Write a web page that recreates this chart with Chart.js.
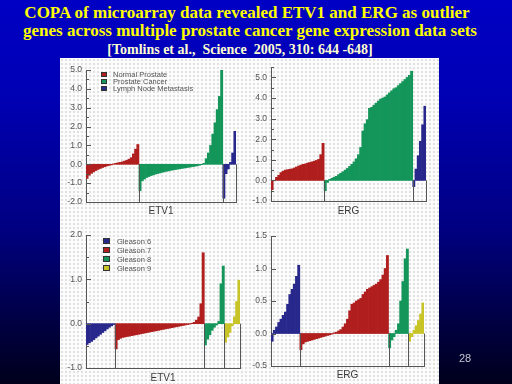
<!DOCTYPE html>
<html>
<head>
<meta charset="utf-8">
<script src="https://cdn.jsdelivr.net/npm/chart.js@4.4.0/dist/chart.umd.min.js"></script>
<style>
    html, body { margin: 0; padding: 0; }
    body {
        width: 512px; height: 384px; overflow: hidden; position: relative;
        background: linear-gradient(to bottom, #0000c4 0%, #0000b4 25%, #000080 60%, #000040 85%, #00001c 100%);
    }
    .title {
        position: absolute; left: 0; width: 500px; text-align: center; white-space: pre;
        font-family: "Liberation Serif", serif; font-weight: bold; color: #ffff00;
    }
    #t1 { top: 3px; left: -3px; font-size: 17px; }
    #t2 { top: 21px; font-size: 17px; }
    #t3 { top: 42px; left: -10px; font-size: 14px; color: #ffffd0; }
    #panel {
        position: absolute; left: 60px; top: 58px; width: 379px; height: 326px;
        background-color: #fcfcfc;
        background-image: radial-gradient(circle, #d2d2d2 0.6px, transparent 0.9px);
        background-size: 4px 4px;
    }
    canvas { position: absolute; }
    #c1 { left: 60px; top: 58px; }
    #c2 { left: 245px; top: 58px; }
    #c3 { left: 60px; top: 225px; }
    #c4 { left: 245px; top: 225px; }
    #page { position: absolute; left: 459px; top: 352px; font: 11px "Liberation Sans", sans-serif; color: #c4c4d0; }
</style>
</head>
<body>
<div class="title" id="t1">COPA of microarray data revealed ETV1 and ERG as outlier</div>
<div class="title" id="t2">genes across multiple prostate cancer gene expression data sets</div>
<div class="title" id="t3">[Tomlins et al.,  Science  2005, 310: 644 -648]</div>
<div id="panel"></div>
<canvas id="c1" width="190" height="162"></canvas>
<canvas id="c2" width="190" height="162"></canvas>
<canvas id="c3" width="190" height="159"></canvas>
<canvas id="c4" width="190" height="159"></canvas>
<div id="page">28</div>
<script>
// sorted expression values per sample group
const tissue_names = ["Normal Prostate", "Prostate Cancer", "Lymph Node Metastasis"];
const gleason_names = ["Gleason 6", "Gleason 7", "Gleason 8", "Gleason 9"];

const etv1_normal = [-0.75, -0.58, -0.48, -0.4, -0.33, -0.27, -0.22, -0.17, -0.13, -0.09, -0.06, -0.03, 0.02, 0.05, 0.08, 0.1, 0.13, 0.17, 0.21, 0.27, 0.35, 0.55, 0.8, 1.05];
const etv1_cancer = [-1.4, -0.88, -0.78, -0.7, -0.65, -0.6, -0.56, -0.52, -0.49, -0.46, -0.43, -0.4, -0.37, -0.35, -0.32, -0.3, -0.28, -0.26, -0.24, -0.22, -0.2, -0.18, -0.16, -0.14, -0.12, -0.1, -0.08, -0.05, -0.02, 0.05, 0.3, 0.6, 1.0, 1.6, 2.2, 2.9, 3.6, 5.0];
const etv1_mets = [-1.8, -0.5, -0.25, 0.1, 0.6, 1.75];

const erg_normal = [-0.45, -0.02, 0.15, 0.25, 0.38, 0.45, 0.5, 0.52, 0.54, 0.56, 0.6, 0.65, 0.7, 0.74, 0.78, 0.8, 0.84, 0.87, 0.9, 0.93, 0.97, 1.02, 1.25, 1.8];
const erg_cancer = [-0.5, -0.1, 0.05, 0.1, 0.15, 0.2, 0.28, 0.35, 0.42, 0.5, 0.58, 0.68, 0.78, 0.9, 1.05, 1.25, 1.6, 2.4, 2.75, 2.95, 3.5, 3.55, 3.65, 3.75, 3.85, 3.95, 4.0, 4.05, 4.15, 4.25, 4.35, 4.45, 4.5, 4.6, 4.7, 4.8, 4.9, 5.0, 5.1, 5.3];
const erg_mets = [-0.3, 0.55, 1.2, 1.9, 2.7, 3.6];

const etv1_g6 = [-0.47, -0.43, -0.4, -0.36, -0.32, -0.28, -0.24, -0.2, -0.16, -0.12, -0.08, -0.05, -0.02];
const etv1_g7 = [-0.57, -0.36, -0.33, -0.31, -0.3, -0.29, -0.28, -0.27, -0.26, -0.25, -0.24, -0.23, -0.22, -0.21, -0.2, -0.19, -0.18, -0.17, -0.16, -0.15, -0.14, -0.13, -0.12, -0.11, -0.1, -0.09, -0.08, -0.07, -0.06, -0.05, -0.04, -0.03, -0.02, -0.01, 0.01, 0.03, 0.08, 0.15, 0.45, 1.6];
const etv1_g8 = [-0.48, -0.35, -0.25, -0.15, -0.08, -0.03, 0.05, 0.9, 1.3];
const etv1_g9 = [-0.42, -0.3, -0.2, -0.05, 0.15, 0.5, 0.98];

const erg_g6 = [-0.12, 0.05, 0.1, 0.17, 0.22, 0.28, 0.33, 0.45, 0.6, 0.68, 0.76, 0.88, 1.05];
const erg_g7 = [-0.25, -0.16, -0.13, -0.12, -0.11, -0.1, -0.09, -0.08, -0.07, -0.06, -0.05, -0.04, -0.03, -0.02, -0.01, 0.01, 0.02, 0.04, 0.06, 0.1, 0.15, 0.22, 0.35, 0.45, 0.47, 0.5, 0.52, 0.54, 0.6, 0.64, 0.68, 0.7, 0.72, 0.74, 0.76, 0.79, 0.83, 0.9, 1.0, 1.2];
const erg_g8 = [-0.22, -0.1, -0.05, 0.05, 0.15, 0.5, 0.8, 1.15, 1.3];
const erg_g9 = [-0.12, -0.05, 0.05, 0.12, 0.2, 0.3, 0.47];

const tissue_colors = ["#b01e1e", "#14965a", "#28288c"];
const gleason_colors = ["#28288c", "#b01e1e", "#14965a", "#c8c428"];

const font_family = '"Liberation Sans", Arial, sans-serif';

// little tick marks pointing into the plot, long on labelled values
const inner_ticks = {
    id: 'inner_ticks',
    afterDraw(chart) {
        const ctx = chart.ctx;
        const y = chart.scales.y;
        const left = chart.chartArea.left;
        ctx.save();
        ctx.strokeStyle = '#555';
        ctx.lineWidth = 1;
        y.ticks.forEach(tick => {
            let py = Math.round(y.getPixelForValue(tick.value)) + 0.5;
            let len = tick.label ? 5 : 3;
            ctx.beginPath();
            ctx.moveTo(left, py);
            ctx.lineTo(left + len, py);
            ctx.stroke();
        });
        ctx.restore();
    }
};

// vertical lines between the groups, from zero down to the axis
const separators = {
    id: 'separators',
    afterDatasetsDraw(chart, args, opts) {
        const ctx = chart.ctx;
        const x = chart.scales.x;
        const y = chart.scales.y;
        const area = chart.chartArea;
        const zero = y.getPixelForValue(0);
        ctx.save();
        ctx.strokeStyle = '#555';
        ctx.lineWidth = 1;
        opts.bounds.forEach(b => {
            let px = b >= opts.total ? area.right : (x.getPixelForValue(b - 1) + x.getPixelForValue(b)) / 2;
            px = Math.round(px) + 0.5;
            ctx.beginPath();
            ctx.moveTo(px, zero);
            ctx.lineTo(px, area.bottom);
            ctx.stroke();
        });
        ctx.restore();
    }
};

const box_legend = {
    id: 'box_legend',
    afterDraw(chart, args, opts) {
        if (!opts.show) return;
        const ctx = chart.ctx;
        const area = chart.chartArea;
        ctx.save();
        ctx.font = opts.size + 'px ' + font_family;
        ctx.textBaseline = 'middle';
        chart.data.datasets.forEach((ds, i) => {
            let bx = Math.round(area.left + opts.x);
            let by = Math.round(area.top + opts.y + i * opts.gap - opts.h / 2);
            ctx.fillStyle = ds.backgroundColor;
            ctx.fillRect(bx, by, opts.w, opts.h);
            ctx.strokeStyle = '#333';
            ctx.lineWidth = 1;
            ctx.strokeRect(bx + 0.5, by + 0.5, opts.w - 1, opts.h - 1);
            ctx.fillStyle = '#555';
            ctx.fillText(ds.label, bx + opts.dx, by + opts.h / 2 + 0.5);
        });
        ctx.restore();
    }
};

function make_chart(id, groups, colors, names, cfg) {
    let total = groups.reduce((acc, g) => acc + g.length, 0);
    let labels = [];
    for (let i = 0; i < total; i++) labels.push(i);

    let datasets = [];
    let bounds = [];
    let start = 0;
    groups.forEach((g, k) => {
        let data = new Array(total).fill(null);
        g.forEach((v, i) => { data[start + i] = v; });
        datasets.push({
            label: names[k],
            data: data,
            backgroundColor: colors[k],
            borderWidth: 0,
            barPercentage: 1,
            categoryPercentage: 1,
            grouped: false
        });
        start += g.length;
        bounds.push(start);
    });

    return new Chart(document.getElementById(id), {
        type: 'bar',
        data: { labels: labels, datasets: datasets },
        plugins: [separators, inner_ticks, box_legend],
        options: {
            responsive: false,
            animation: false,
            layout: { padding: { top: cfg.pad_top, right: cfg.pad_right, left: 0, bottom: 0 } },
            scales: {
                x: {
                    afterFit: s => { s.height = cfg.x_height; },
                    grid: { display: false, drawTicks: false },
                    border: { display: true, color: '#555', width: 1 },
                    ticks: { display: false },
                    title: {
                        display: true,
                        text: cfg.x_title,
                        color: '#3a3a3a',
                        font: { family: font_family, size: 10 },
                        padding: { top: 0, bottom: cfg.title_pad }
                    }
                },
                y: {
                    min: cfg.min,
                    max: cfg.max,
                    afterFit: s => { s.width = 26; },
                    grid: { display: false, drawTicks: false, tickLength: 0 },
                    border: { display: true, color: '#555', width: 1 },
                    ticks: {
                        stepSize: 0.5,
                        autoSkip: false,
                        padding: 4,
                        color: '#555',
                        font: { family: font_family, size: 8.5 },
                        callback: value => (cfg.every_label || Number.isInteger(value)) ? value.toFixed(1) : ''
                    }
                }
            },
            plugins: {
                legend: { display: false },
                tooltip: { enabled: false },
                separators: { bounds: bounds, total: total },
                box_legend: cfg.legend
            }
        }
    });
}

make_chart('c1', [etv1_normal, etv1_cancer, etv1_mets], tissue_colors, tissue_names, {
    min: -2, max: 5, pad_top: 12, pad_right: 14, x_height: 18, title_pad: 3, x_title: 'ETV1',
    legend: { show: true, x: 15, y: 4, gap: 7, w: 6, h: 5, dx: 12, size: 7.5 }
});

make_chart('c2', [erg_normal, erg_cancer, erg_mets], tissue_colors, tissue_names, {
    min: -1, max: 5.5, pad_top: 9, pad_right: 9, x_height: 19, title_pad: 3, x_title: 'ERG',
    legend: { show: false }
});

make_chart('c3', [etv1_g6, etv1_g7, etv1_g8, etv1_g9], gleason_colors, gleason_names, {
    min: -1, max: 2, pad_top: 10, pad_right: 10, x_height: 16, title_pad: 0, x_title: 'ETV1',
    legend: { show: true, x: 17, y: 6, gap: 9, w: 7, h: 6, dx: 14, size: 7.5 }
});

make_chart('c4', [erg_g6, erg_g7, erg_g8, erg_g9], gleason_colors, gleason_names, {
    min: -0.5, max: 1.5, pad_top: 11, pad_right: 11, x_height: 18, title_pad: 3, x_title: 'ERG',
    every_label: true, legend: { show: false }
});
</script>
</body>
</html>
